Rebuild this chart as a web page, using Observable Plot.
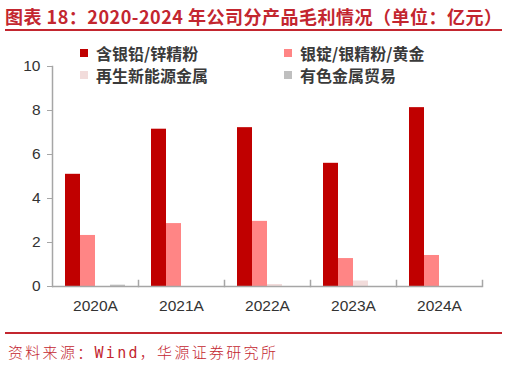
<!DOCTYPE html>
<html>
<head>
<meta charset="utf-8">
<script src="https://cdn.jsdelivr.net/npm/d3@7"></script>
<script src="https://cdn.jsdelivr.net/npm/@observablehq/plot@0.6"></script>
<style>
  html, body { margin: 0; padding: 0; background: #fff; }
  #wrap { position: relative; width: 507px; height: 366px; overflow: hidden; font-family: "Noto Sans CJK SC", "Liberation Sans", sans-serif; }
  #title { position: absolute; left: 5px; top: 3px; font-size: 18px; font-weight: 700; color: #C3262F; white-space: nowrap; line-height: 26px; letter-spacing: 0.5px; }
  #tline { position: absolute; left: 5px; top: 29px; width: 497px; height: 2px; background: #C3262F; }
  #fline { position: absolute; left: 5px; top: 332px; width: 497px; height: 1.5px; background: #C3262F; }
  #source { position: absolute; left: 8px; top: 342px; font-size: 15px; font-weight: 300; color: #C3262F; white-space: nowrap; letter-spacing: 2.3px; line-height: 22px; font-family: "DejaVu Sans Mono", "Noto Sans CJK SC", monospace; }
  #legend { position: absolute; left: 0; top: 0; }
  .item { position: absolute; font-size: 16px; font-weight: 700; color: #3a3a3a; white-space: nowrap; line-height: 20px; }
  .sw { position: absolute; width: 8px; height: 8px; }
  #chart { position: absolute; left: 0; top: 0; }
</style>
</head>
<body>
<div id="wrap">
  <div id="chart"></div>
  <div id="title"></div>
  <div id="tline"></div>
  <div id="legend"></div>
  <div id="fline"></div>
  <div id="source"></div>
</div>
<script>
const titleText = "图表 18：2020-2024 年公司分产品毛利情况（单位：亿元）";
const sourceText = "资料来源：Wind，华源证券研究所";
const years = ["2020A", "2021A", "2022A", "2023A", "2024A"];
const series = ["含银铅/锌精粉", "银锭/银精粉/黄金", "再生新能源金属", "有色金属贸易"];
const colors = ["#C00000", "#FF8585", "#F2DCDB", "#BFBFBF"];
const leadZinc = [5.1, 7.15, 7.22, 5.6, 8.13];
const silverGold = [2.32, 2.86, 2.96, 1.27, 1.41];
const recycled = [0, 0, 0.09, 0.25, 0];
const trading = [0.06, 0, 0, 0, 0];
const yTicks = [0, 2, 4, 6, 8, 10];

const seriesValues = [leadZinc, silverGold, recycled, trading];
const data = [];
years.forEach((yr, i) => {
  series.forEach((s, j) => {
    data.push({ year: yr, series: s, value: seriesValues[j][i] });
  });
});

document.getElementById("title").textContent = titleText;
document.getElementById("source").textContent = sourceText;

// legend (2 x 2)
const legendPos = [[80, 43], [284, 43], [80, 65], [284, 65]];
const legend = document.getElementById("legend");
series.forEach((s, j) => {
  const [lx, ly] = legendPos[j];
  const sw = document.createElement("div");
  sw.className = "sw";
  sw.style.left = lx + "px";
  sw.style.top = (ly + 6) + "px";
  sw.style.background = colors[j];
  legend.appendChild(sw);
  const t = document.createElement("div");
  t.className = "item";
  t.style.left = (lx + 16) + "px";
  t.style.top = ly + "px";
  t.textContent = s;
  legend.appendChild(t);
});

const axisColor = "#A6A6A6";
const plot = Plot.plot({
  width: 507,
  height: 366,
  marginLeft: 52,
  marginRight: 25,
  marginTop: 66,
  marginBottom: 80,
  style: { fontFamily: "Liberation Sans, Arial, sans-serif", color: "#333", background: "transparent" },
  fx: { domain: years, padding: 0, label: null, axis: null },
  x: { domain: series, paddingInner: 0, paddingOuter: 0.77, axis: null },
  y: { domain: [0, 10], axis: null },
  color: { domain: series, range: colors },
  marks: [
    Plot.barY(data, { fx: "year", x: "series", y: "value", fill: "series" }),
    Plot.ruleY([0], { stroke: axisColor, strokeWidth: 1.5 }),
    Plot.frame({ anchor: "right", stroke: axisColor, strokeWidth: 1.5, insetTop: 214 }),
    Plot.frame({ anchor: "left", stroke: axisColor, strokeWidth: 1.5, facet: "super" }),
    Plot.axisY({ ticks: yTicks, tickSize: 5, tickPadding: 7, fontSize: 15.5, stroke: axisColor, fill: "#333", label: null, tickFormat: d => String(d) }),
    Plot.axisFx({ anchor: "bottom", tickSize: 0, tickPadding: 13, fontSize: 15.5, fill: "#333", label: null })
  ]
});
document.getElementById("chart").appendChild(plot);
</script>
</body>
</html>
